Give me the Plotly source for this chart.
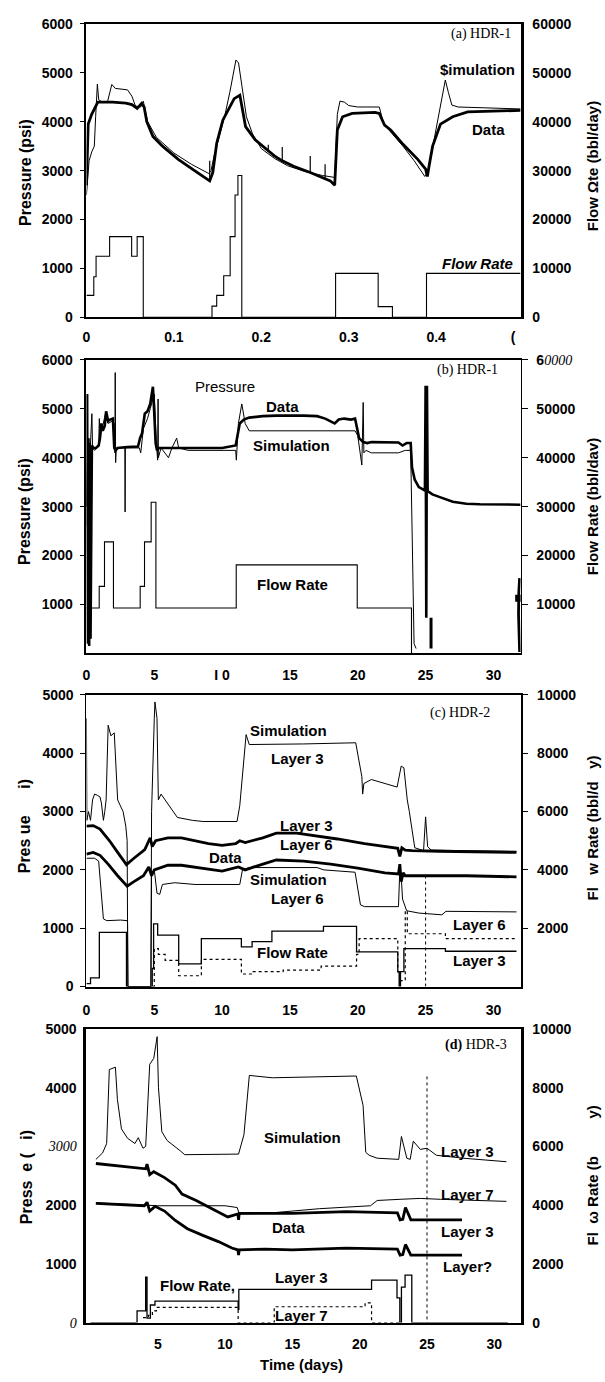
import plotly.graph_objects as go

# ================= DATA =================
# ---- (a) HDR-1 : time (days) 0-0.5 ----
a_sim_t = [0, 0.003, 0.006, 0.009, 0.0105, 0.0125, 0.014, 0.018, 0.024, 0.029, 0.033, 0.04, 0.047, 0.052,
           0.056, 0.062, 0.065, 0.07, 0.08, 0.1, 0.12, 0.14, 0.1425, 0.146, 0.152, 0.158, 0.164, 0.168,
           0.171, 0.174, 0.178, 0.183, 0.19, 0.2, 0.215, 0.23, 0.25, 0.27, 0.284, 0.287, 0.29, 0.295,
           0.3, 0.31, 0.335, 0.34, 0.35, 0.362, 0.375, 0.387, 0.391, 0.398, 0.403, 0.408, 0.4105, 0.414,
           0.418, 0.425, 0.44, 0.46, 0.4966]
a_sim_p = [2500, 3200, 3380, 3500, 4100, 4770, 4450, 4400, 4400, 4760, 4680, 4660, 4650, 4520,
           4320, 4300, 4420, 4000, 3680, 3360, 3130, 2940, 3000, 3300, 3700, 4100, 4600, 5000,
           5260, 5200, 4700, 4100, 3750, 3450, 3250, 3100, 2980, 2900, 2860, 4150, 4420, 4400,
           4330, 4300, 4300, 3950, 3750, 3500, 3200, 2880, 3000, 3650, 4100, 4600, 4850, 4600,
           4340, 4300, 4290, 4280, 4260]
a_dat_t = [0, 0.002, 0.006, 0.01, 0.013, 0.03, 0.045, 0.052, 0.058, 0.063, 0.066, 0.069, 0.076, 0.087,
           0.105, 0.127, 0.141, 0.1445, 0.149, 0.156, 0.162, 0.169, 0.1755, 0.178,
           0.182, 0.193, 0.208, 0.215, 0.224, 0.237, 0.256,
           0.273, 0.279, 0.284, 0.287, 0.293, 0.304, 0.33, 0.335, 0.341,
           0.348, 0.361, 0.379, 0.388, 0.39, 0.392, 0.396, 0.405, 0.419, 0.436, 0.4966]
a_dat_p = [2700, 3950, 4150, 4300, 4400, 4400, 4380, 4350, 4270, 4370, 4300, 4000, 3700, 3500,
           3230, 2960, 2790, 2960, 3560, 4030, 4240, 4470, 4540, 4300,
           3900, 3630, 3400, 3300, 3200, 3090, 2960,
           2830, 2790, 2700, 3830, 4100, 4170, 4190, 4170, 3930,
           3830, 3560, 3230, 3030, 2880, 3100, 3500, 3950, 4100, 4200, 4230]
# thin pressure spikes on the data record (base, peak)
a_spk_t = [0.141, 0.141, None, 0.208, 0.208, None, 0.224, 0.224, None, 0.256, 0.256, None, 0.273, 0.273]
a_spk_p = [2790, 3200, None, 3400, 3530, None, 3200, 3480, None, 2960, 3300, None, 2830, 3130]
a_q_t = [0, 0.0084, 0.011, 0.0265, 0.0517, 0.058, 0.065, 0.1436, 0.149, 0.157, 0.1644, 0.170,
         0.1733, 0.1777, 0.285, 0.3337, 0.350, 0.389, 0.4966]
a_q = [4500, 8300, 12500, 16500, 12500, 16500, 0, 2300, 4500, 8500, 16500, 25000,
       29000, 0, 9000, 2200, 0, 9000, 9000]

# ---- (b) HDR-1 : time (days) 0-32 ----
b_dat_t = [0, 0.05, 0.1, 0.15, 0.2, 0.25, 0.3, 0.35, 0.4, 0.5, 0.7, 0.9, 1.0, 1.1, 1.2, 1.35, 1.45, 1.6,
           1.75, 1.95, 2.05, 2.15, 2.3, 3.0, 3.8, 3.95, 4.1, 4.3, 4.5, 4.7, 4.9, 5.0, 5.1, 5.2, 5.35, 5.6,
           6.0, 7.0, 8.0, 9.0, 10.0, 11.0, 11.1, 11.3, 11.6, 12.0, 13.0, 14.0, 16.0, 17.0, 17.6, 18.0,
           18.3, 18.6, 19.0, 19.5, 19.8, 19.95, 20.1, 20.4, 20.7, 21.0, 22.0, 23.0, 23.3, 23.6, 23.9,
           24.0, 24.2, 24.5, 24.95, 25.0, 25.05, 25.1, 25.15, 25.5, 26.0, 27.0, 28.0, 29.0, 32.0]
b_dat_p = [2600, 5300, 200, 4400, 150, 4300, 300, 4200, 4250, 4200, 4200, 4250, 4400, 4700, 4550, 4650,
           4950, 4750, 4780, 4800, 4200, 4150, 4200, 4220, 4230, 4400, 4500, 4900, 4950, 5100, 5450,
           4900, 4300, 4150, 4200, 4200, 4200, 4200, 4200, 4200, 4200, 4250, 4400, 4700, 4780, 4820,
           4850, 4860, 4860, 4850, 4800, 4750, 4700, 4780, 4800, 4780, 4800, 4600, 4400, 4320, 4300,
           4320, 4320, 4310, 4250, 4300, 4300, 3800, 3550, 3400, 3330, 5470, 730, 5470, 3320, 3250,
           3200, 3100, 3060, 3050, 3040]
b_sim_t = [0, 0.1, 0.2, 0.3, 0.4, 0.45, 0.6, 0.9, 0.95, 1.0, 1.2, 1.4, 1.6, 1.9, 2.05, 2.1, 2.12, 2.15,
           2.2, 2.83, 2.85, 2.87, 3.9, 4.0, 4.2, 4.5, 4.7, 5.0, 5.15, 5.25, 5.28, 5.3, 5.5, 5.9, 6.05,
           6.3, 6.65, 6.8, 7.5, 11.0, 11.05, 11.2, 11.45, 11.7, 12.0, 19.8, 20.0, 20.3, 20.4, 20.45,
           20.6, 21.0, 23.0, 23.5, 23.9, 24.15, 24.3]
b_sim_p = [3000, 4400, 4200, 4300, 4900, 4200, 4150, 4250, 4800, 4450, 4650, 4900, 4700, 4750, 4700,
           4100, 5740, 3900, 4200, 4200, 2890, 4200, 4200, 4100, 4600, 4800, 5000, 5300, 4300, 3950,
           5200, 4000, 4200, 4050, 4000, 4200, 4400, 4200, 4150, 4150, 3950, 4700, 5100, 4700, 4550,
           4550, 4450, 3850, 5130, 4100, 4150, 4100, 4100, 4150, 4150, 200, 100]
b_q_t = [0, 0.94, 1.33, 1.99, 3.96, 4.28, 4.77, 5.12, 11.04, 19.96, 23.96, 24.2]
b_q = [9300, 13700, 22800, 9300, 13700, 22800, 30900, 9300, 18100, 9300, 0, 0]
b_spike_t = [25.4, 25.4]
b_spike_p = [730, 100]
b_end_t = [31.93, 31.87, 31.85, 31.87, 31.93]
b_end_q = [15400, 12500, 8000, 3500, 300]
b_mark_t = [31.86]
b_mark_q = [11300]

# ---- (c) HDR-2 ----
c_sim3_t = [0, 0.03, 0.15, 0.3, 0.45, 0.6, 0.8, 1.0, 1.1, 1.25, 1.35, 1.45, 1.6, 1.67, 1.8, 2.05, 2.2,
            2.3, 2.7, 2.9, 3.0, 3.05, 4.75, 4.8, 5.0, 5.05, 5.2, 5.3, 5.5, 6.1, 6.7, 7.8, 8.6, 11.1,
            11.3, 11.77, 12.0, 16.0, 19.85, 20.3, 20.36, 20.45, 20.6, 21.0, 22.9, 23.2, 23.4, 23.65,
            23.8, 24.2, 24.85, 25.0, 25.15, 25.4, 28.0, 31.7]
c_sim3_p = [4600, 2850, 3000, 2850, 3200, 3300, 3280, 3250, 3150, 2850, 3000, 3200, 4480, 4400, 4300,
            4350, 3500, 3200, 3000, 2750, 2500, 0, 0, 3000, 4600, 4880, 4600, 3200, 3300, 3100, 2900,
            2850, 2830, 2830, 3100, 4320, 4150, 4160, 4180, 3600, 3300, 3480, 3500, 3550, 3420, 3780,
            3750, 3200, 3000, 2380, 2330, 2910, 2400, 2340, 2330, 2320]
c_dat3_t = [0, 0.5, 1.0, 1.7, 2.3, 2.95, 3.5, 4.3, 4.7, 4.85, 5.1, 6.0, 7.0, 8.0, 9.0, 10.0, 11.0, 11.3,
            11.7, 13.0, 14.0, 15.5, 17.0, 18.5, 20.5, 22.5, 22.95, 23.1, 23.25, 23.5, 24.0, 26.0, 31.7]
c_dat3_p = [2750, 2760, 2700, 2500, 2300, 2090, 2200, 2350, 2550, 2400, 2500, 2550, 2550, 2500, 2450,
            2420, 2450, 2500, 2470, 2550, 2630, 2630, 2580, 2530, 2450, 2380, 2370, 2230, 2380, 2340,
            2330, 2320, 2300]
c_dat6_t = [0, 0.5, 1.0, 1.6, 2.3, 3.0, 3.5, 4.2, 4.6, 4.8, 5.0, 6.0, 7.0, 8.5, 10.0, 11.2, 11.7, 13.0,
            14.0, 16.0, 18.0, 20.0, 22.0, 23.0, 23.1, 23.2, 23.35, 23.5, 24.0, 28.0, 31.7]
c_dat6_p = [2270, 2300, 2250, 2100, 1900, 1720, 1800, 1900, 2050, 1900, 2000, 2080, 2080, 2030, 1980,
            2050, 2000, 2100, 2170, 2150, 2100, 2030, 1950, 1930, 2100, 1800, 1950, 1900, 1900, 1900,
            1880]
c_sim6_t = [0, 0.6, 0.9, 1.1, 1.25, 1.5, 2.5, 3.0, 3.03, 3.06, 4.75, 4.8, 5.0, 5.2, 5.4, 5.6, 6.5, 8.0,
            11.3, 11.5, 12.0, 17.0, 17.5, 19.8, 20.2, 20.5, 23.0, 23.1, 23.2, 23.3, 23.6, 24.5, 26.2,
            26.5, 31.7]
c_sim6_p = [2200, 2200, 2150, 1500, 1160, 1130, 1140, 1130, 1100, 0, 0, 1950, 2000, 1600, 1580, 1750,
            1780, 1750, 1750, 2000, 2040, 2040, 2000, 1960, 1400, 1370, 1370, 2000, 1900, 1500, 1300,
            1260, 1230, 1290, 1280]
c_q3_t = [0, 0.3, 0.95, 2.95, 4.85, 4.95, 5.25, 6.8, 8.47, 11.42, 12.21, 13.67, 17.47, 19.91, 22.95,
          23.05, 23.15, 23.4, 26.46, 31.7]
c_q3 = [100, 300, 1860, 0, 620, 2150, 1760, 780, 1640, 1360, 1540, 1900, 2060, 1190, 510,
        0, 510, 1300, 1210, 1210]
c_q6_t = [4.9, 5.0, 5.3, 5.8, 6.8, 8.47, 11.42, 12.21, 14.5, 17.3, 19.91, 20.1, 22.95, 23.1, 23.5,
          23.65, 26.46, 31.7]
c_q6 = [0, 1300, 1100, 900, 370, 930, 430, 510, 565, 700, 1100, 1640, 500, 200, 2600,
        1810, 1640, 1640]

# ---- (d) HDR-3 ----
d_sim3_t = [0.4, 0.9, 1.2, 1.4, 1.85, 2.0, 2.3, 2.75, 3.3, 3.55, 3.9, 4.1, 4.4, 4.7, 4.95, 5.05, 5.3,
            5.7, 6.7, 7.0, 11.0, 11.4, 11.8, 13.5, 19.75, 20.25, 20.45, 20.7, 21.3, 22.9, 23.1, 23.5,
            23.75, 23.98, 24.5, 25.0, 25.7, 27.7, 30.9]
d_sim3_p = [2780, 2890, 3050, 4310, 4350, 3800, 3300, 3140, 3050, 3150, 2970, 3000, 4400, 4500, 4870,
            4000, 3250, 3100, 2920, 2860, 2870, 3200, 4210, 4170, 4200, 3700, 2900, 2850, 2800, 2780,
            3170, 2800, 2780, 3090, 2950, 2970, 2850, 2800, 2740]
d_sim7_t = [0.4, 4.0, 5.0, 10.0, 10.9, 11.05, 13.0, 14.0, 17.0, 20.8, 21.3, 23.0, 24.5, 26.0, 30.9]
d_sim7_p = [2040, 2000, 1990, 1990, 1960, 1850, 1860, 1880, 1940, 1990, 2080, 2100, 2115, 2100, 2065]
d_dat3_t = [0.4, 3.0, 4.1, 4.2, 4.4, 4.7, 5.5, 6.3, 6.8, 7.85, 9.0, 10.2, 10.95, 11.0, 11.05, 13.0,
            15.0, 19.0, 22.8, 23.0, 23.2, 23.4, 23.6, 23.8, 27.6]
d_dat3_p = [2710, 2650, 2620, 2700, 2520, 2570, 2470, 2340, 2190, 2080, 1940, 1800, 1850, 1750, 1860,
            1860, 1860, 1890, 1870, 1750, 1760, 1960, 1850, 1750, 1750]
d_dat7_t = [0.4, 4.0, 4.2, 4.4, 4.8, 5.5, 6.3, 7.2, 8.3, 9.5, 10.5, 10.95, 11.0, 11.05, 13.0, 15.0,
            19.0, 22.8, 23.0, 23.2, 23.4, 23.6, 23.8, 27.6]
d_dat7_p = [2030, 1990, 2050, 1900, 1980, 1900, 1740, 1600, 1490, 1380, 1270, 1240, 1150, 1240, 1250,
            1240, 1270, 1250, 1150, 1160, 1330, 1240, 1150, 1150]
d_q3_t = [0, 3.46, 4.1, 4.2, 4.45, 4.79, 10.97, 11.02, 20.88, 22.77, 22.98, 23.1, 23.37, 23.87, 31.0]
d_q3 = [0, 400, 1550, 150, 600, 730, 450, 1130, 1450, 840, 0, 1210, 1620, 0, 0]
d_q7_t = [3.9, 4.3, 4.6, 4.9, 10.97, 13.65, 20.4, 20.88, 23.0]
d_q7 = [170, 250, 400, 520, 0, 540, 670, 0, 0]

# tick labels
a_xtick_v = [0, 0.1, 0.2, 0.3, 0.4, 0.488]
a_xtick_t = ["0", "0.1", "0.2", "0.3", "0.4", "("]
b_xtick_v = [0, 5, 10, 15, 20, 25, 30]
b_xtick_t = ["0", "5", "I 0", "15", "20", "25", "30"]
c_xtick_v = [0, 5, 10, 15, 20, 25, 30]
d_xtick_v = [5, 10, 15, 20, 25, 30]

# ================= FIGURE =================
W, H = 605, 1382
def px(x): return x / W
def py(y): return 1 - y / H

XL, XR = 83, 520
PAN = {1: (16, 313), 2: (356, 653), 3: (695, 990), 4: (1033, 1330)}
SANS = "Liberation Sans"
SERIF = "Liberation Serif"
tickf = dict(family=SANS, size=14, color="black", weight="bold")

fig = go.Figure()

def line(x, y, n, right=False, width=1.0, dash="solid", shape="linear"):
    ya = "y%d" % (n + 4 if right else n)
    if ya == "y1":
        ya = "y"
    xa = "x" if n == 1 else "x%d" % n
    fig.add_trace(go.Scatter(x=x, y=y, xaxis=xa, yaxis=ya, mode="lines",
                             line=dict(color="black", width=width, dash=dash, shape=shape),
                             hoverinfo="skip", showlegend=False, connectgaps=False))

# (a)
line(a_q_t, a_q, 1, right=True, width=1.1, shape="hv")
line(a_sim_t, a_sim_p, 1, width=1.0)
line(a_spk_t, a_spk_p, 1, width=1.2)
line(a_dat_t, a_dat_p, 1, width=2.8)
# (b)
line(b_q_t, b_q, 2, right=True, width=1.1, shape="hv")
line(b_sim_t, b_sim_p, 2, width=1.0)
line(b_dat_t, b_dat_p, 2, width=2.6)
line(b_spike_t, b_spike_p, 2, width=3)
line(b_end_t, b_end_q, 2, right=True, width=2.8)
fig.add_trace(go.Scatter(x=b_mark_t, y=b_mark_q, xaxis="x2", yaxis="y6", mode="markers",
                         marker=dict(symbol="square", size=7, color="black"),
                         hoverinfo="skip", showlegend=False))
# (c)
line(c_q3_t, c_q3, 3, right=True, width=1.3, shape="hv")
line(c_q6_t, c_q6, 3, right=True, width=1.2, dash="dot", shape="hv")
line(c_sim3_t, c_sim3_p, 3, width=1.0)
line(c_sim6_t, c_sim6_p, 3, width=1.0)
line(c_dat3_t, c_dat3_p, 3, width=2.8)
line(c_dat6_t, c_dat6_p, 3, width=2.8)
# (d)
line(d_q3_t, d_q3, 4, right=True, width=1.3, shape="hv")
line(d_q7_t, d_q7, 4, right=True, width=1.2, dash="dot", shape="hv")
line(d_sim3_t, d_sim3_p, 4, width=1.0)
line(d_sim7_t, d_sim7_p, 4, width=1.0)
line(d_dat3_t, d_dat3_p, 4, width=2.8)
line(d_dat7_t, d_dat7_p, 4, width=2.8)

def xaxis(n, rng, tv, tt, lw, standoff):
    return dict(domain=[px(XL), px(XR)], anchor=("y" if n == 1 else "y%d" % n), range=rng,
                tickvals=tv, ticktext=tt, showline=True, linecolor="black", linewidth=lw,
                mirror=True, ticks="", showgrid=False, zeroline=False, tickfont=tickf,
                ticklabelstandoff=standoff, fixedrange=True)

def yleft(n, rng, tv, tt, lw, ticks="outside"):
    top, bot = PAN[n]
    return dict(domain=[py(bot), py(top)], anchor=("x" if n == 1 else "x%d" % n), range=rng,
                tickvals=tv, ticktext=tt, showline=True, linecolor="black", linewidth=lw,
                ticks=ticks, ticklen=5, tickcolor="black", showgrid=False, zeroline=False,
                tickfont=tickf, ticklabelstandoff=4, fixedrange=True)

def yright(n, rng, tv, tt, lw, ticks=""):
    return dict(overlaying=("y" if n == 1 else "y%d" % n), side="right",
                anchor=("x" if n == 1 else "x%d" % n), range=rng, tickvals=tv, ticktext=tt,
                showline=True, linecolor="black", linewidth=lw, ticks=ticks, ticklen=6,
                tickcolor="black", showgrid=False, zeroline=False, tickfont=tickf,
                ticklabelstandoff=6, fixedrange=True)

ital = '<span style="font-family:Liberation Serif;font-style:italic;font-weight:normal">%s</span>'

layout = dict(
    width=W, height=H, autosize=False, margin=dict(l=0, r=0, t=0, b=0),
    paper_bgcolor="white", plot_bgcolor="white", showlegend=False,
    xaxis=xaxis(1, [0, 0.4966], a_xtick_v, a_xtick_t, 1.5, 6),
    xaxis2=xaxis(2, [0, 32], b_xtick_v, b_xtick_t, 1.5, 8),
    xaxis3=xaxis(3, [0, 32], c_xtick_v, [str(v) for v in c_xtick_v], 1.8, 10),
    xaxis4=xaxis(4, [-0.3, 31.95], d_xtick_v, [str(v) for v in d_xtick_v], 1.5, 8),
    yaxis=yleft(1, [0, 6000], list(range(0, 6001, 1000)), [str(v) for v in range(0, 6001, 1000)], 1.5),
    yaxis2=yleft(2, [0, 6000], list(range(1000, 6001, 1000)), [str(v) for v in range(1000, 6001, 1000)], 1.5),
    yaxis3=yleft(3, [0, 5000], list(range(0, 5001, 1000)), [str(v) for v in range(0, 5001, 1000)], 1.2),
    yaxis4=yleft(4, [0, 5000], list(range(0, 5001, 1000)),
                 [ital % "0", "1000", "2000", ital % "3000", "4000", "5000"], 3, ticks=""),
    yaxis5=yright(1, [0, 60000], list(range(0, 60001, 10000)), [str(v) for v in range(0, 60001, 10000)], 3),
    yaxis6=yright(2, [0, 60000], list(range(10000, 60001, 10000)),
                  ["10000", "20000", "30000", "40000", "50000", "6" + ital % "0000"], 1, ticks="outside"),
    yaxis7=yright(3, [0, 10000], list(range(2000, 10001, 2000)), [str(v) for v in range(2000, 10001, 2000)], 1.5, ticks="outside"),
    yaxis8=yright(4, [0, 10000], list(range(0, 10001, 2000)), [str(v) for v in range(0, 10001, 2000)], 3),
)
fig.update_layout(**layout)

# reference dotted verticals at day 25
fig.add_shape(type="line", xref="x3", yref="y3", x0=25, x1=25, y0=0, y1=1950,
              line=dict(color="black", width=1, dash="dot"))
fig.add_shape(type="line", xref="x4", yref="y4", x0=25, x1=25, y0=-150, y1=4200,
              line=dict(color="black", width=1, dash="dot"))

def ann(text, x, y, size=15, bold=True, family=SANS, angle=0, xanchor="center"):
    fig.add_annotation(text=text, x=px(x), y=py(y), xref="paper", yref="paper", showarrow=False,
                       textangle=angle, xanchor=xanchor, yanchor="middle",
                       font=dict(family=family, size=size, color="black",
                                 weight=("bold" if bold else "normal")))

# (a)
ann("(a) HDR-1", 480, 26, size=14, bold=False, family=SERIF)
ann("$imulation", 477, 62)
ann("Data", 488, 123)
ann("<i>Flow Rate</i>", 477, 258)
ann("Pressure (psi)", 21, 166, size=16, angle=-90)
ann("Flow \u03a9te (bbl/day)", 592, 160, size=15, angle=-90)
# (b)
ann("(b) HDR-1", 467, 366, size=14, bold=False, family=SERIF)
ann("Pressure", 222, 383, bold=False)
ann("Data", 280, 403)
ann("Simulation", 289, 443)
ann("Flow Rate", 290, 583)
ann("Pressure (psi)", 20, 509, size=16, angle=-90)
ann("Flow Rate (bbl/dav)", 592, 504, size=15, angle=-90)
# (c)
ann("(c) HDR-2", 459, 713, size=14, bold=False, family=SERIF)
ann("Simulation", 286, 731)
ann("Layer 3", 295, 759)
ann("Layer 3", 305, 827)
ann("Data", 223, 859)
ann("Layer 6", 305, 846)
ann("Simulation", 286, 882)
ann("Layer 6", 295, 901)
ann("Flow Rate", 290, 956)
ann("Layer 6", 479, 927)
ann("Layer 3", 479, 964)
ann("Pres ue      i)", 21, 828, size=16, angle=-90)
ann("Fl   w Rate (bbl/d   y)", 592, 830, size=15, angle=-90)
# (d)
ann("<b>(d)</b> HDR-3", 475, 1049, size=14, bold=False, family=SERIF)
ann("Simulation", 300, 1143)
ann("Layer 3", 467, 1157)
ann("Layer 7", 467, 1200)
ann("Layer 3", 467, 1238)
ann("Data", 286, 1234)
ann("Layer?", 467, 1273)
ann("Flow Rate,", 195, 1292)
ann("Layer 3", 299, 1284)
ann("Layer 7", 299, 1323)
ann("Time (days)", 299, 1372, size=15)
ann("Press  e (   i)", 22, 1183, size=16, angle=-90)
ann("Fl  \u03c9 Rate (b         y)", 592, 1181, size=15, angle=-90)

fig.write_html("out.html")
